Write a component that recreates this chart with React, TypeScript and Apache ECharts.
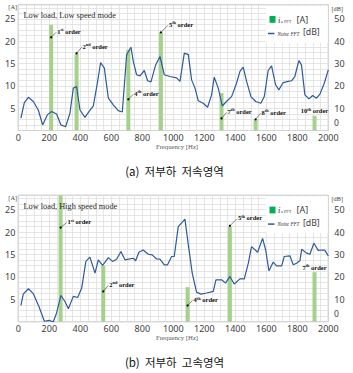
import React, { useEffect, useRef } from 'react';
import * as echarts from 'echarts';

// ---------- DATA ----------
// Chart (a): Low load, Low speed mode
const lowNoiseFreq = [17,39,65,97,129,157,187,215,247,275,305,333,355,376,398,430,456,484,510,531,555,581,613,645,671,699,727,742,763,785,813,834,856,886,914,942,978,1021,1043,1071,1097,1118,1140,1161,1193,1221,1247,1264,1290,1316,1343,1376,1408,1430,1451,1473,1501,1531,1565,1587,1612,1634,1660,1681,1709,1741,1763,1784,1810,1827,1849,1875,1899,1924,1946,1974,2000];
const lowNoiseDb = [5.5,12.5,14.9,13.0,9.2,2.5,7.0,8.5,7.4,2.5,1.7,7.7,19.0,19.7,9.2,5.9,8.5,11.0,21.2,30.5,28.0,14.5,11.5,8.9,8.3,34.0,37.3,31.0,25.0,24.5,26.9,22.3,21.8,29.4,33.2,25.0,24.2,23.6,22.0,34.7,34.0,22.7,19.0,13.3,12.2,10.4,16.0,23.9,19.0,11.0,13.0,15.2,21.2,26.5,28.4,22.0,15.2,13.0,12.2,15.2,26.9,29.0,20.5,18.2,21.5,22.0,22.3,24.2,31.3,29.4,16.0,14.2,15.7,14.5,16.3,21.2,27.2];
const lowOrders = [1, 2, 4, 5, 7, 8, 10];
const lowOrderFreq = [212, 376, 710, 920, 1311, 1531, 1911];
const lowOrderAmp = [23.7, 17.2, 18.1, 22.0, 8.4, 2.5, 3.3];
const lowMarkAmp: (number | null)[] = [20.9, 17.3, 7.0, 22.0, 2.7, 2.5, null];

// Chart (b): Low load, High speed mode
const highNoiseFreq = [17,32,65,97,133,168,198,226,247,275,301,323,355,383,409,436,462,495,516,544,581,608,634,662,688,720,742,757,778,806,839,864,892,914,942,963,989,1006,1032,1058,1075,1097,1122,1150,1178,1215,1258,1275,1312,1337,1365,1393,1430,1458,1484,1505,1544,1576,1596,1617,1645,1666,1699,1716,1752,1774,1795,1817,1828,1860,1881,1907,1935,1967,1978,2000];
const highNoiseDb = [7.3,12.3,14.7,12.5,6.8,0.2,0.6,0,3.9,11.7,9.0,5.8,11.3,10.8,15.0,26.9,28.8,21.7,27.6,25.1,28.6,26.9,27.9,31.3,27.6,28.0,28.3,27.2,31.0,32.0,30.1,29.8,28.0,27.9,25.4,25.4,29.1,29.1,42.4,44.4,45.8,34.3,21.7,13.2,12.3,12.8,13.5,18.7,18.7,17.2,20.2,16.8,19.1,19.1,26.1,33.5,31.0,37.2,32.0,22.7,26.6,24.9,24.9,29.1,29.4,25.4,26.1,27.2,32.3,30.6,30.1,35.0,31.8,32.0,31.8,29.4];
const highOrders = [1, 2, 4, 5, 7];
const highOrderFreq = [273, 548, 1092, 1365, 1911];
const highOrderAmp = [28.2, 12.5, 7.7, 21.2, 11.05];
const highMarkAmp: (number | null)[] = [21.0, 6.75, 3.6, 21.4, null];

const titles = ['Low load, Low speed mode', 'Low load, High speed mode'];
const captions = ['(a)  저부하  저속영역', '(b)  저부하  고속영역'];
const xLabelName = 'Frequency [Hz]';

// label offsets (px) for annotation leader labels
const lowLabelOffset = [[6, -6], [6, -7], [6, -6], [8, -8], [6, -7], [6, -7], [0, 0]];
const highLabelOffset = [[7, -6], [6, -7], [6, -6], [8, -8], [0, 0]];

// ---------- LAYOUT ----------
const PLOT_LEFT = 18.3;
const PLOT_W = 310;
const PLOT_TOPS = [4.7, 195.3];
const PLOT_H = [125.8, 126.4];
const A_MAX = 28.2;
const DB_MAX = 56.4;
const BAR_COLOR = '#a6d18c';
const LINE_COLOR = '#2e5a9c';
const GRID_COLOR = '#dedede';
const LABEL_COLOR = '#404040';

const suffix = (n: number) => (n === 1 ? 'st' : n === 2 ? 'nd' : n === 3 ? 'rd' : 'th');

const near = (v: number, step: number) => Math.abs(v / step - Math.round(v / step)) < 1e-6;

function annoSeries(idx: number, orders: number[], freq: number[], barAmp: number[], markAmp: (number | null)[], offsets: number[][]) {
  const rich = {
    n: { fontFamily: 'Liberation Serif', fontSize: 6.5, fontWeight: 'bold', fill: '#111' },
    s: { fontFamily: 'Liberation Serif', fontSize: 4.3, fontWeight: 'bold', fill: '#111', verticalAlign: 'top' },
  };
  return {
    type: 'custom',
    xAxisIndex: idx,
    yAxisIndex: idx * 2,
    clip: false,
    silent: true,
    z: 6,
    data: freq.map((f, i) => [f, markAmp[i] != null ? markAmp[i] : barAmp[i]]),
    renderItem: (params: any, api: any) => {
      const i = params.dataIndex;
      const p = api.coord([api.value(0), api.value(1)]);
      const text = `{n|${orders[i]}}{s|${suffix(orders[i])}}{n| order}`;
      if (markAmp[i] == null) {
        return {
          type: 'text',
          x: p[0],
          y: p[1] - 1.5,
          style: { text, rich, align: 'center', verticalAlign: 'bottom' },
        };
      }
      const [dx, dy] = offsets[i];
      return {
        type: 'group',
        children: [
          { type: 'line', shape: { x1: p[0], y1: p[1], x2: p[0] + dx - 1, y2: p[1] + dy + 1 }, style: { stroke: '#333', lineWidth: 0.6 } },
          { type: 'circle', shape: { cx: p[0], cy: p[1], r: 1.1 }, style: { fill: '#000' } },
          { type: 'text', x: p[0] + dx, y: p[1] + dy, style: { text, rich, align: 'left', verticalAlign: 'middle' } },
        ],
      };
    },
  };
}

function chartGraphics(k: number) {
  const T = PLOT_TOPS[k];
  const bottom = T + PLOT_H[k];
  return [
    { type: 'text', x: 23.5, y: T + 11, z: 10, style: { text: titles[k], fontFamily: 'Liberation Serif', fontSize: 8.3, fill: '#262626', verticalAlign: 'middle' } },
    { type: 'text', x: 8.3, y: T + 2, z: 10, style: { text: '[A]', fontFamily: 'Liberation Serif', fontSize: 6.3, fill: '#404040', verticalAlign: 'middle' } },
    { type: 'text', x: 331.5, y: T + 3.5, z: 10, style: { text: '[dB]', fontFamily: 'Liberation Serif', fontSize: 6.3, fill: '#404040', verticalAlign: 'middle' } },
    // raised "0" of the right axis
    { type: 'text', x: 334, y: bottom - 4, z: 10, style: { text: '0', fontFamily: 'Noto Sans', fontSize: 8.5, lineHeight: 8, fill: LABEL_COLOR, verticalAlign: 'bottom' } },
    // legend
    { type: 'rect', shape: { x: 266, y: T + 1.5, width: 61.8, height: 36.5 }, z: 9, style: { fill: '#fff' } },
    { type: 'rect', shape: { x: 269.5, y: T + 11.3, width: 6, height: 6.8 }, z: 10, style: { fill: '#00b050' } },
    { type: 'text', x: 278, y: T + 15, z: 10, style: { text: 'i', fontFamily: 'Liberation Serif', fontStyle: 'italic', fontSize: 8.5, fill: '#333', verticalAlign: 'middle' } },
    { type: 'text', x: 281, y: T + 16.5, z: 10, style: { text: 'a FFT', fontFamily: 'Liberation Serif', fontSize: 4.3, fill: '#333', verticalAlign: 'middle' } },
    { type: 'text', x: 296.5, y: T + 14.5, z: 10, style: { text: '[A]', fontFamily: 'Noto Sans', fontSize: 9, fill: '#404040', verticalAlign: 'middle' } },
    { type: 'line', shape: { x1: 268, y1: T + 28.8, x2: 274.5, y2: T + 28.8 }, z: 10, style: { stroke: LINE_COLOR, lineWidth: 1.5 } },
    { type: 'text', x: 277.5, y: T + 29, z: 10, style: { text: 'Noise FFT', fontFamily: 'Liberation Serif', fontStyle: 'italic', fontSize: 5.1, fill: '#333', verticalAlign: 'middle' } },
    { type: 'text', x: 303, y: T + 27.5, z: 10, style: { text: '[dB]', fontFamily: 'Noto Sans', fontSize: 8.7, fill: '#404040', verticalAlign: 'middle' } },
    // axis name and caption
    { type: 'text', x: 177, y: bottom + 16, z: 10, style: { text: xLabelName, fontFamily: 'Liberation Serif', fontSize: 6.7, fill: '#595959', align: 'center', verticalAlign: 'middle' } },
    { type: 'text', x: 174.5, y: bottom + 40, z: 10, style: { text: captions[k], fontFamily: 'Noto Sans CJK KR', fontSize: 11.5, fill: '#111', align: 'center', verticalAlign: 'middle' } },
  ];
}

export default function App() {
  const ref = useRef<HTMLDivElement>(null);
  useEffect(() => {
    const chart = echarts.init(ref.current!, null, { renderer: 'svg' });
    const grids = [0, 1].map((k) => ({
      left: PLOT_LEFT,
      top: PLOT_TOPS[k],
      width: PLOT_W,
      height: PLOT_H[k],
      show: true,
      borderColor: '#a6a6a6',
      borderWidth: 1,
      backgroundColor: 'transparent',
    }));
    const xAxes = [0, 1].map((k) => ({
      type: 'value',
      gridIndex: k,
      min: 0,
      max: 2000,
      interval: 50,
      axisLine: { show: false },
      axisTick: { show: false },
      axisLabel: {
        formatter: (v: number) => (near(v, 200) ? String(v) : ''),
        fontFamily: 'Noto Sans',
        fontSize: 9,
        lineHeight: 9,
        color: LABEL_COLOR,
        margin: 2,
      },
      splitLine: { show: true, lineStyle: { color: GRID_COLOR, width: 0.8 } },
    }));
    const yAxes: any[] = [];
    [0, 1].forEach((k) => {
      yAxes.push({
        type: 'value',
        gridIndex: k,
        position: 'left',
        min: 0,
        max: A_MAX,
        interval: 1.25,
        axisLine: { show: false },
        axisTick: { show: false },
        axisLabel: {
          formatter: (v: number) => (v > 0 && near(v, 5) ? String(v) : ''),
          fontFamily: 'Noto Sans',
          fontSize: 9,
          color: LABEL_COLOR,
          margin: 3,
        },
        splitLine: { show: true, lineStyle: { color: GRID_COLOR, width: 0.8 } },
      });
      yAxes.push({
        type: 'value',
        gridIndex: k,
        position: 'right',
        min: 0,
        max: DB_MAX,
        interval: 10,
        axisLine: { show: false },
        axisTick: { show: false },
        axisLabel: {
          formatter: (v: number) => (v > 0 && near(v, 10) ? String(v) : ''),
          fontFamily: 'Noto Sans',
          fontSize: 9,
          color: LABEL_COLOR,
          margin: 6,
        },
        splitLine: { show: false },
      });
    });

    const series: any[] = [
      {
        type: 'bar', xAxisIndex: 0, yAxisIndex: 0, barWidth: 4, z: 2,
        itemStyle: { color: BAR_COLOR },
        data: lowOrderFreq.map((f, i) => [f, lowOrderAmp[i]]),
      },
      {
        type: 'line', xAxisIndex: 0, yAxisIndex: 1, showSymbol: false, symbol: 'none', z: 3,
        lineStyle: { color: LINE_COLOR, width: 1.2 },
        data: lowNoiseFreq.map((f, i) => [f, lowNoiseDb[i]]),
      },
      annoSeries(0, lowOrders, lowOrderFreq, lowOrderAmp, lowMarkAmp, lowLabelOffset),
      {
        type: 'bar', xAxisIndex: 1, yAxisIndex: 2, barWidth: 4, z: 2,
        itemStyle: { color: BAR_COLOR },
        data: highOrderFreq.map((f, i) => [f, highOrderAmp[i]]),
      },
      {
        type: 'line', xAxisIndex: 1, yAxisIndex: 3, showSymbol: false, symbol: 'none', z: 3,
        lineStyle: { color: LINE_COLOR, width: 1.2 },
        data: highNoiseFreq.map((f, i) => [f, highNoiseDb[i]]),
      },
      annoSeries(1, highOrders, highOrderFreq, highOrderAmp, highMarkAmp, highLabelOffset),
    ];

    chart.setOption({
      animation: false,
      backgroundColor: '#fff',
      grid: grids,
      xAxis: xAxes,
      yAxis: yAxes,
      series,
      graphic: [...chartGraphics(0), ...chartGraphics(1)],
    });
    return () => chart.dispose();
  }, []);
  return (
    <div
      ref={ref}
      style={{ position: 'absolute', left: 0, top: 0, width: 353, height: 373, background: '#fff' }}
    />
  );
}
